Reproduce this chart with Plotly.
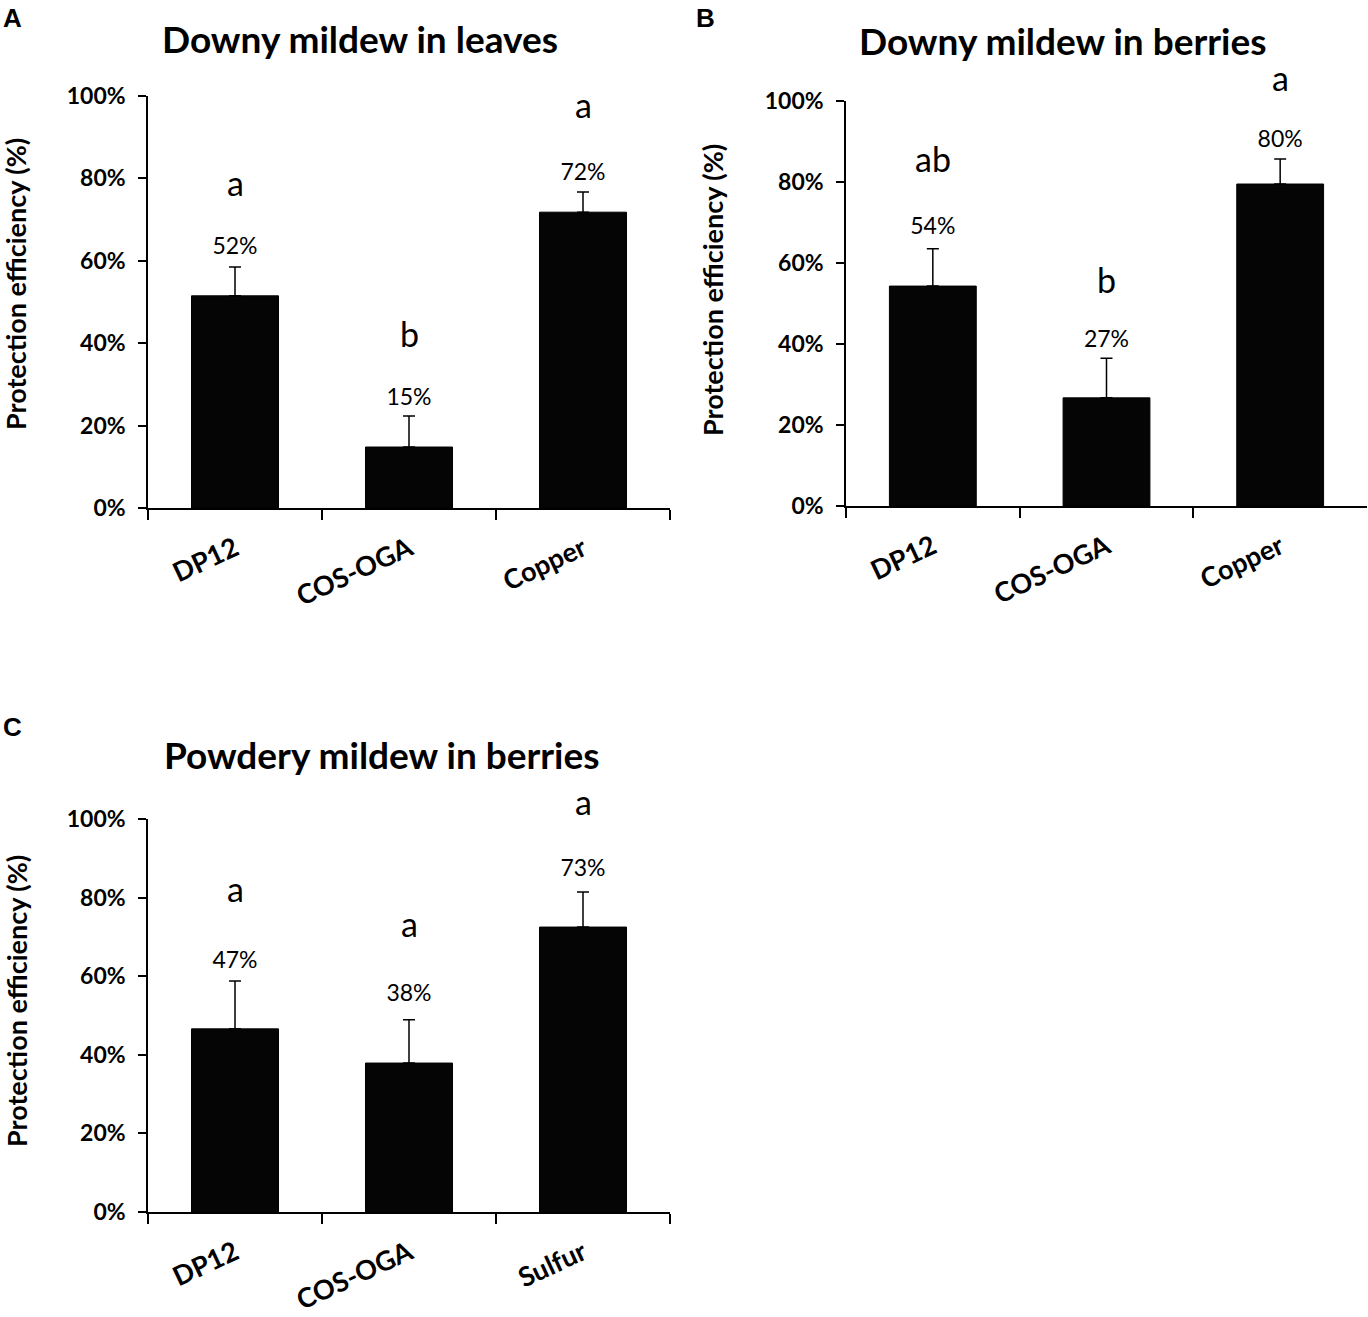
import plotly.graph_objects as go

W, H = 1368, 1317

# ---- data ----
cats_a = ['DP12', 'COS-OGA', 'Copper']
vals_a = [0.515, 0.148, 0.718]
err_a = [0.070, 0.075, 0.049]
pct_a = ['52%', '15%', '72%']
pct_y_a = [0.63, 0.265, 0.81]
let_a = ['a', 'b', 'a']
let_y_a = [0.78, 0.415, 0.97]

cats_b = ['DP12', 'COS-OGA', 'Copper']
vals_b = [0.543, 0.267, 0.795]
err_b = [0.092, 0.098, 0.062]
pct_b = ['54%', '27%', '80%']
pct_y_b = [0.686, 0.407, 0.901]
let_b = ['ab', 'b', 'a']
let_y_b = [0.847, 0.55, 1.047]

cats_c = ['DP12', 'COS-OGA', 'Sulfur']
vals_c = [0.466, 0.379, 0.725]
err_c = [0.122, 0.110, 0.089]
pct_c = ['47%', '38%', '73%']
pct_y_c = [0.636, 0.552, 0.87]
let_c = ['a', 'a', 'a']
let_y_c = [0.812, 0.725, 1.035]

titles = ['Downy mildew in leaves', 'Downy mildew in berries', 'Powdery mildew in berries']
y_title = 'Protection efficiency (%)'
tick_vals = [0, 0.2, 0.4, 0.6, 0.8, 1.0]
tick_text = ['0%', '20%', '40%', '60%', '80%', '100%']

FONT = 'Lato'

fig = go.Figure()
annots = []


def px_x(x):
    return min(1.0, max(0.0, x / W))


def px_y(y):
    return min(1.0, max(0.0, 1 - y / H))


def add_panel(n, cats, vals, err, pct, pct_y, lets, let_y, box):
    # box = (x0, x1, y_top(100%), y_bottom(0%)) in pixels
    x0, x1, yt, yb = box
    xa = 'x' if n == 1 else 'x{}'.format(n)
    ya = 'y' if n == 1 else 'y{}'.format(n)

    fig.add_trace(go.Bar(
        x=cats, y=vals, xaxis=xa, yaxis=ya,
        marker=dict(color='#050505', line=dict(color='black', width=1)),
        error_y=dict(type='data', array=err, arrayminus=[0] * len(err),
                     symmetric=False, color='black', thickness=1.5, width=6),
        showlegend=False, hoverinfo='skip',
    ))
    # value labels
    fig.add_trace(go.Scatter(
        x=cats, y=pct_y, xaxis=xa, yaxis=ya, mode='text', text=pct,
        textfont=dict(size=23, color='black', family=FONT),
        cliponaxis=False, showlegend=False, hoverinfo='skip',
    ))
    # significance letters: y axis runs 0..1, so the axis domain reference
    # gives the same position and still shows letters placed above 100%
    for c, t, yv in zip(cats, lets, let_y):
        annots.append(dict(text=t, x=c, y=yv, xref=xa, yref=ya + ' domain',
                           showarrow=False, xanchor='center', yanchor='middle',
                           yshift=4,
                           font=dict(size=34, family=FONT, color='black')))

    xkey = 'xaxis' if n == 1 else 'xaxis{}'.format(n)
    ykey = 'yaxis' if n == 1 else 'yaxis{}'.format(n)
    fig.update_layout(**{
        xkey: dict(domain=[px_x(x0), px_x(x1)], anchor=ya, automargin=False,
                   showline=True, linecolor='black', linewidth=1.5,
                   ticks='outside', ticklen=10, tickcolor='black', tickwidth=1.5,
                   tickson='boundaries', showgrid=False, tickangle=-25,
                   ticklabelstandoff=13,
                   tickfont=dict(size=27, family=FONT, color='black', weight='bold')),
        ykey: dict(domain=[px_y(yb), px_y(yt)], anchor=xa, range=[0, 1],
                   automargin=False,
                   showline=True, linecolor='black', linewidth=1.5,
                   ticks='outside', ticklen=8, tickcolor='black', tickwidth=1.5,
                   tickvals=tick_vals, ticktext=tick_text, showgrid=False,
                   zeroline=False, ticklabelstandoff=8,
                   tickfont=dict(size=23, family=FONT, color='black', weight='bold')),
    })


add_panel(1, cats_a, vals_a, err_a, pct_a, pct_y_a, let_a, let_y_a, (148, 670, 96, 508))
add_panel(2, cats_b, vals_b, err_b, pct_b, pct_y_b, let_b, let_y_b, (846, 1367, 101, 506))
add_panel(3, cats_c, vals_c, err_c, pct_c, pct_y_c, let_c, let_y_c, (148, 670, 819, 1212))

fig.update_layout(bargap=0.5)

# titles, axis titles and panel letters
for txt, x, y in zip(titles, [360, 1063, 382], [38, 40, 755]):
    annots.append(dict(text=txt, x=px_x(x), y=px_y(y), xref='paper', yref='paper',
                       showarrow=False, xanchor='center', yanchor='middle',
                       font=dict(size=37, family=FONT, color='black', weight='bold')))
for x, y in zip([16, 713, 16], [284, 290, 1001]):
    annots.append(dict(text=y_title, x=px_x(x), y=px_y(y), xref='paper', yref='paper',
                       showarrow=False, xanchor='center', yanchor='middle', textangle=-90,
                       font=dict(size=27, family=FONT, color='black', weight='bold')))
for txt, x, y in zip(['A', 'B', 'C'], [1, 694, 1], [18, 18, 727]):
    annots.append(dict(text=txt, x=px_x(x), y=px_y(y), xref='paper', yref='paper',
                       showarrow=False, xanchor='left', yanchor='middle',
                       font=dict(size=26, family='Liberation Sans', color='black', weight='bold')))
fig.update_layout(annotations=annots)

fig.update_layout(width=W, height=H,
                  margin=dict(l=0, r=0, t=0, b=0, pad=0),
                  paper_bgcolor='white', plot_bgcolor='white',
                  hovermode=False,
                  font=dict(family=FONT, color='black'))

# drop the page's default body margin so the figure sits at the window's corner
fig.write_html('out.html', config={'displayModeBar': False},
               post_script="document.body.style.margin='0';document.body.style.overflow='hidden';")
